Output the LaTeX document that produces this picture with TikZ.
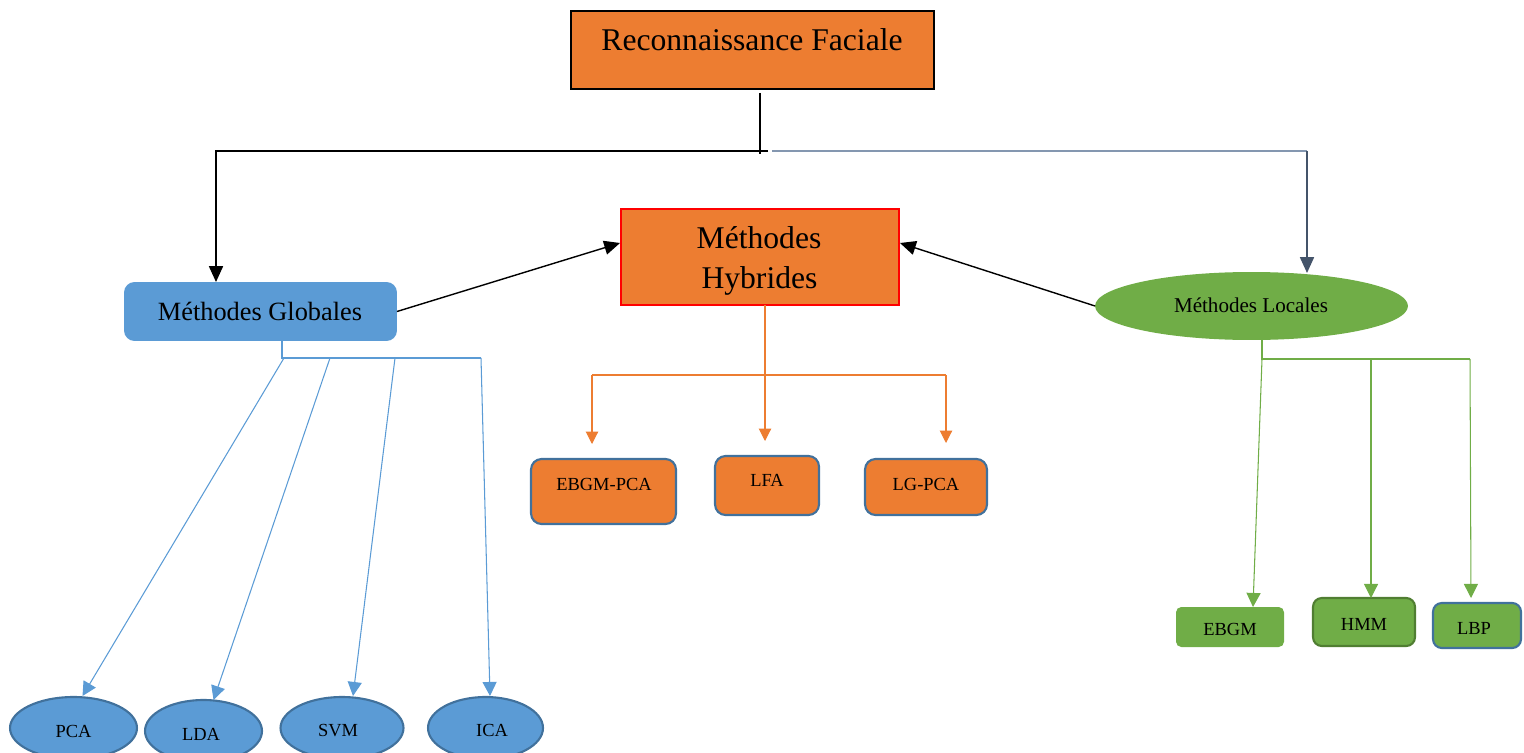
\documentclass[tikz,border=0pt]{standalone}
\usepackage{fontspec}
\setmainfont{Liberation Serif}
\usetikzlibrary{arrows.meta,calc,shapes.geometric}
\definecolor{orng}{HTML}{ED7D31}
\definecolor{blu}{HTML}{5B9BD5}
\definecolor{grn}{HTML}{70AD47}
\definecolor{bdblue}{HTML}{41719C}
\definecolor{dkgrn}{HTML}{507E32}
\definecolor{slate}{HTML}{44546A}
\definecolor{slatel}{HTML}{8497B0}
\tikzset{
  shp/.style={inner sep=0pt, outer sep=0pt},
  lbl/.style={inner sep=0pt, anchor=base, text=black},
  big/.style={font=\fontsize{18}{22}\selectfont},
  mid/.style={font=\fontsize{15}{18}\selectfont},
  sml/.style={font=\fontsize{12}{14}\selectfont},
  tiny/.style={font=\fontsize{10.5}{12}\selectfont},
  blk/.style={draw=black, line width=0.8pt, -{Triangle[length=9pt,width=8pt]}},
  orl/.style={draw=orng, line width=0.6pt},
  orarr/.style={orl, -{Triangle[length=7pt,width=7pt]}},
  bll/.style={draw=blu, line width=0.6pt},
  blarr/.style={bll, -{Triangle[length=8pt,width=8pt]}},
  grl/.style={draw=grn, line width=0.6pt},
  grarr/.style={grl, -{Triangle[length=8pt,width=8pt]}},
  hbox/.style={shp, rectangle, rounded corners=6pt, fill=orng, draw=bdblue, line width=1.2pt},
  gbox/.style={shp, rectangle, rounded corners=3pt, fill=grn},
  bell/.style={shp, ellipse, fill=blu, draw=bdblue, line width=1.2pt, minimum height=1.24cm}
}
\begin{document}
\begin{tikzpicture}[x=0.02cm,y=-0.02cm]
\useasboundingbox (0,0) rectangle (1524,753);
% main nodes
\node[shp, rectangle, fill=orng, draw=black, line width=1.6pt, minimum width=7.26cm, minimum height=1.56cm] (rf) at (752.5,50) {};
\node[lbl, big] (rft) at (752,51) {Reconnaissance Faciale};
\node[shp, rectangle, rounded corners=6pt, fill=blu, minimum width=5.46cm, minimum height=1.18cm] (mg) at (260.5,311.5) {};
\node[lbl, mid] (mgt) at (260,320.5) {Méthodes Globales};
\node[shp, rectangle, fill=orng, draw=red, line width=1.2pt, minimum width=5.56cm, minimum height=1.92cm] (mh) at (760,257) {};
\node[lbl, big] (mht1) at (759,249) {Méthodes};
\node[lbl, big] (mht2) at (759.5,288) {Hybrides};
\node[shp, ellipse, fill=grn, minimum width=6.26cm, minimum height=1.36cm] (ml) at (1251.5,306) {};
\node[lbl, sml] (mlt) at (1251,312.5) {Méthodes Locales};
% hybrid children
\node[hbox, minimum width=2.9cm, minimum height=1.3cm] (h1) at (603.5,491.5) {};
\node[lbl, tiny] (h1t) at (604,490.5) {EBGM-PCA};
\node[hbox, minimum width=2.08cm, minimum height=1.18cm] (h2) at (767,485.5) {};
\node[lbl, tiny] (h2t) at (767,486.5) {LFA};
\node[hbox, minimum width=2.44cm, minimum height=1.12cm] (h3) at (926,487) {};
\node[lbl, tiny] (h3t) at (926,490.5) {LG-PCA};
% local children
\node[gbox, minimum width=2.16cm, minimum height=0.8cm] (l1) at (1230,627) {};
\node[lbl, tiny] (l1t) at (1230,635.5) {EBGM};
\node[gbox, draw=dkgrn, line width=1.2pt, rounded corners=5pt, minimum width=2.04cm, minimum height=0.96cm] (l2) at (1364,622) {};
\node[lbl, tiny] (l2t) at (1364,630) {HMM};
\node[gbox, draw=bdblue, line width=1.2pt, rounded corners=5pt, minimum width=1.76cm, minimum height=0.9cm] (l3) at (1477,625.5) {};
\node[lbl, tiny] (l3t) at (1474,634) {LBP};
% global children
\node[bell, minimum width=2.54cm] (g1) at (73.5,728) {};
\node[lbl, tiny] (g1t) at (73.5,737) {PCA};
\node[bell, minimum width=2.34cm] (g2) at (203.5,731) {};
\node[lbl, tiny] (g2t) at (201,740.5) {LDA};
\node[bell, minimum width=2.46cm] (g3) at (342,728) {};
\node[lbl, tiny] (g3t) at (338,736) {SVM};
\node[bell, minimum width=2.3cm] (g4) at (485.5,728) {};
\node[lbl, tiny] (g4t) at (492,736) {ICA};
% top connectors
\coordinate (t1) at (760,93);
\coordinate (t2) at (760,154);
\coordinate (tl) at (768,151);
\coordinate (tr) at (772,151);
\coordinate (ga) at (216,282);
\coordinate (la) at (1307,273);
\draw[black, line width=0.8pt] (t1) -- (t2);
\draw[blk] (tl) -| (ga);
\draw[draw=slatel, line width=0.8pt] (tr) -- (1307,151);
\draw[draw=slate, line width=0.8pt, -{Triangle[length=9pt,width=8pt]}] (1307,151) -- (la);
\draw[blk] (mg.east) -- ($(mh.west)+(-1,-14)$);
\draw[blk] (ml.west) -- ($(mh.east)+(1,-14)$);
% hybrid connectors
\coordinate (hs) at (765,305);
\coordinate (hl) at (592,375);
\coordinate (hr) at (946,375);
\draw[orarr] (hs) -- ($(h2.north)+(-2,-15)$);
\draw[orl] (hl) -- (hr);
\draw[orarr] (hl) -- ($(h1.north)+(-11.5,-15)$);
\draw[orarr] (hr) -- ($(h3.north)+(20,-16)$);
% global connectors
\coordinate (gs) at (282,341);
\coordinate (gj) at (282,358);
\coordinate (ge) at (481,358);
\draw[bll] (gs) -- (gj) -- (ge);
\draw[blarr] (284,358) -- ($(g1.north)+(9,-1)$);
\draw[blarr] (330,358) -- ($(g2.north)+(10,0)$);
\draw[blarr] (395,358) -- ($(g3.north)+(11,-1)$);
\draw[blarr] (ge) -- ($(g4.north)+(4.5,-1)$);
% local connectors
\coordinate (ls) at (1262,340);
\coordinate (lj) at (1262,359);
\coordinate (lm) at (1371,359);
\coordinate (le) at (1470,359);
\draw[grl] (ls) -- (lj) -- (le);
\draw[grarr] (lj) -- ($(l1.north)+(23,0)$);
\draw[grarr] (lm) -- ($(l2.north)+(7,0)$);
\draw[grarr] (le) -- ($(l3.north)+(-6,-5)$);
\end{tikzpicture}
\end{document}
